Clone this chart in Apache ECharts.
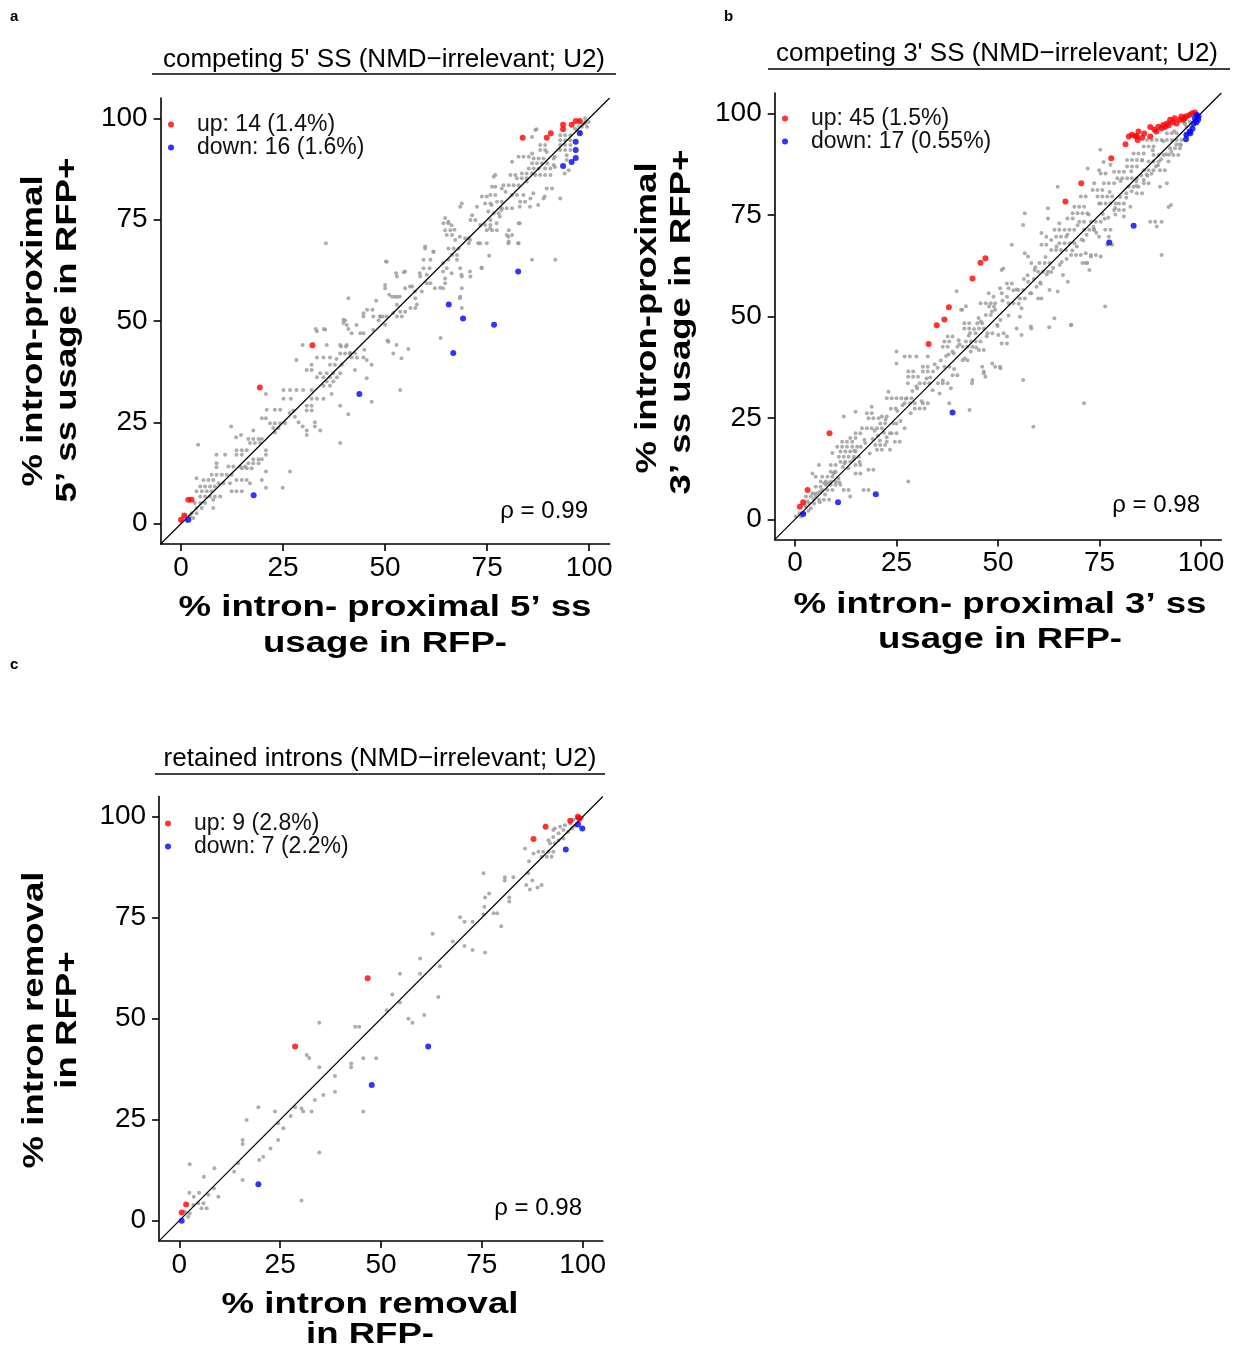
<!DOCTYPE html>
<html>
<head>
<meta charset="utf-8">
<script src="https://cdn.jsdelivr.net/npm/echarts@6.0.0/dist/echarts.min.js"></script>
<style>
  html, body { margin: 0; background: #fff; }
  #main { width: 1241px; height: 1348px; }
</style>
</head>
<body>
<div id="main"></div>
<script>
var axisRange = [-5, 105]
var tickValues = [0, 25, 50, 75, 100]

// a: competing 5' SS
var upA = [[0, 1], [0.8, 2], [1.8, 5.9], [2.6, 5.9], [19.3, 33.6], [32.2, 44], [83.7, 95.2], [89.6, 95.2], [90.6, 96.3],
  [93.6, 98.4], [93.6, 97.3], [95.7, 98.4], [96.7, 99.3], [97.7, 99.3]]
var downA = [[1.8, 1], [17.8, 7], [43.7, 32], [65.6, 54.1], [69.1, 50.6], [66.7, 42.1], [76.7, 49.1], [82.6, 62.2],
  [93.6, 88.2], [95.7, 89.2], [96.7, 90.2], [96.7, 92.2], [96.7, 94.2], [97.7, 96.3]]
var restA = [[40.2, 50.1], [44.7, 51.9], [47.1, 51.1], [48.8, 51.1], [48.4, 50.1], [52, 52],
  [33.3, 47.5], [35.3, 47.9], [40.6, 49], [41, 48], [41.8, 47], [43.9, 47], [44.7, 47], [47.1, 47.8], [50.8, 44.9], [52, 42],
  [29.8, 44.1], [35.7, 44.1], [39, 44.1], [40.6, 44.1], [44.9, 42.9], [39, 42], [40.2, 42], [41.4, 42], [33.3, 41], [34.9, 41],
  [36.5, 41], [41.8, 41], [43.1, 41], [44.7, 41], [28.3, 40.4], [46.7, 39.2],
  [32, 39.2], [30.8, 37.9], [32, 37.9], [34.1, 37.1], [35.7, 37.1], [37.3, 37.1], [39, 37.1], [36.5, 39.2], [37.7, 39.2],
  [39.4, 39.2], [33.3, 36.1], [34.9, 36.1], [36.5, 36.1], [38.2, 36.1], [42.6, 37.9], [45.5, 35.9], [35.7, 35.1], [37.3, 35.1],
  [34.9, 34], [36.5, 34], [32, 33], [28.3, 33], [29.9, 33], [25.1, 33], [26.7, 33], [36.9, 32], [25.1, 30.8], [26.9, 30.8],
  [32, 30.8], [33.3, 30.8], [34.9, 30.8], [30.8, 29.1], [32, 29.1], [30.8, 27.9], [32, 27.9], [27.5, 27.9], [39, 29.1],
  [41, 27], [46.7, 30.1], [53.7, 33], [20.8, 32], [21, 28.1], [23, 28.1], [24.3, 28.1],
  [19.8, 26], [20.8, 26], [21.8, 24.8], [23, 24.8], [24.3, 24.8], [25.5, 24.8], [22.6, 23.6], [23.9, 23.6], [23, 22.5],
  [26.6, 27.3], [27.9, 26.4], [28.8, 25], [29.8, 24], [30.8, 23], [32.8, 25], [32.8, 24], [34.1, 23], [30.8, 21.9],
  [12.3, 24], [13.5, 21.3], [14.7, 21.9], [17.7, 23], [16.5, 20.9], [17.7, 20.9], [19, 20.9], [19.8, 20.9], [39, 19.9],
  [4.2, 19.5], [8.7, 17], [10.8, 17], [13.6, 18.1], [14.9, 18.1], [16.1, 18.1], [16.9, 19.9], [18.1, 19.9], [19.4, 19.9],
  [13.6, 17], [14.9, 17], [17.7, 15.9], [19, 15.9], [19.8, 15.9], [16.5, 14.9], [17.7, 14.9], [19, 14.9], [20.8, 18.1],
  [20.8, 17], [8.7, 14.9], [8.7, 13.9], [11.6, 14.1], [12.8, 14.1], [14.5, 14.1], [15.7, 14.1], [20.8, 12.9], [26.7, 12.9],
  [7.5, 12.1], [8.7, 12.1], [10, 12.1], [11.2, 12.1], [12.4, 12.1],
  [3.8, 11.2], [5.5, 10.8], [6.7, 10.8], [7.9, 10.8], [9.2, 10], [10.4, 10], [12, 10], [14.9, 13.7], [16.1, 13.7],
  [17.3, 13.7], [13.6, 10.8], [14.9, 10.8], [16.1, 10.8], [16.9, 10], [4.7, 9.2], [5.9, 9.2], [7.1, 9.2], [8.3, 9.2],
  [19.8, 10.8], [20.8, 8.9], [24.9, 8.9], [3.8, 8], [5.1, 8], [6.3, 8], [7.5, 8], [12.4, 8], [13.6, 8], [14.9, 8],
  [4.7, 6.7], [5.9, 6.7], [7.1, 6.7], [8.3, 6.7], [9.6, 6.7], [7.9, 5.9],
  [3.4, 5.1], [4.7, 5.1], [5.9, 5.1], [3.8, 3.9], [5.1, 3.9], [2.6, 2.6], [3.8, 2.6], [1, 1.8], [2.2, 1.8], [0.2, 0.6],
  [1.4, 0.6], [7.9, 3.9], [3, 1.4],
  [50.4, 64.6], [52.9, 61], [50, 58.9], [50, 58.1], [54.9, 62.2], [56.6, 58.5], [54.9, 58.1], [51.7, 56], [52.9, 56],
  [52.9, 54], [53.7, 52.3], [54.9, 52.3], [52.9, 51.1], [54.1, 51.1], [48.8, 51.1], [50, 49.1], [57.4, 55.6], [56.2, 53.2],
  [57.4, 53.2], [57.8, 54.1], [59, 57.3], [59.8, 67.9], [61.9, 67.1], [59.4, 65.1], [61.1, 65.1], [59.4, 63], [60.9, 63],
  [58.6, 61], [60.2, 61.4], [61.1, 59.3], [63.5, 58.2], [64.7, 60.5], [64.7, 59.3], [65.1, 63], [65.5, 65.1], [66.4, 66.3],
  [67.6, 66.3], [67.6, 65.1], [68.4, 63], [68.8, 61], [68.8, 58.1], [68.4, 56], [70.9, 61], [68.8, 53.2], [65.5, 67.9],
  [66.8, 67.9], [68, 67.9], [64.3, 74.1], [65.5, 74.1], [64.7, 72.4], [66, 72.4], [65.1, 71.2], [66.4, 71.2], [67.2, 70],
  [69.6, 70.4], [70.5, 70.4], [70.5, 69.2], [73.3, 69.2], [74.9, 69.2], [73.7, 63], [80.3, 69.6], [79.8, 71.2], [81.1, 71.2],
  [80.3, 72.4], [82.7, 69.2], [82.7, 74.1], [86, 65.1], [91.7, 65.1], [68.8, 79], [68.4, 78.2], [71.3, 76.1], [72.5, 78.2],
  [70.9, 74.9], [72.1, 74.9], [73.3, 73.7], [74.5, 73.7], [75.8, 73.7], [74.9, 72.4], [76.2, 72.4], [77.4, 72.4],
  [75.8, 74.9], [76.6, 76.6], [77.8, 76.6], [74.5, 79], [75.8, 79], [73.7, 80.7], [74.9, 80.7], [75.8, 81.1], [77, 81.1],
  [77.4, 79.4], [78.6, 79.4], [78.6, 77.8], [79.8, 77.8], [81.1, 77.8], [76.2, 83.1], [77, 83.1], [76.6, 85.6], [77, 86],
  [78.6, 82.7], [79, 83.5], [80.3, 83.5], [81.5, 83.5], [82.7, 83.5], [79.5, 81.9], [81.1, 81.1], [82.3, 81.1], [83.1, 79.4],
  [84.3, 79.4], [83.9, 81.1], [85.6, 80.2], [82.3, 85.2], [83.5, 85.2], [84.7, 85.2], [80.7, 86], [81.9, 86], [81.1, 89.3],
  [83.5, 86.4], [84.7, 86.4], [86, 86.4], [86.8, 86], [88, 86], [89.2, 86], [90.5, 86], [85.2, 87.6], [86.4, 87.6],
  [87.6, 87.6], [86, 88.9], [87.2, 88.9], [88.4, 88.9], [89.7, 88.9], [82.7, 90.5], [83.9, 90.5], [85.2, 90.5], [86.4, 90.1],
  [87.6, 90.1], [88.8, 90.1], [86, 91.3], [89.2, 87.6], [90.5, 87.6], [89.6, 91.7], [88, 93.4], [89.2, 93.4], [88, 92.2],
  [89.2, 92.2], [86.8, 97.1], [86, 95.4], [91.3, 90.1], [91.3, 88.5], [92.9, 93.4], [94.1, 93.4], [95.4, 93.4], [92.9, 92.2],
  [94.1, 92.2], [95.4, 92.2], [92.9, 94.6], [94.1, 94.6], [95.4, 94.6], [92.9, 95.8], [94.1, 95.8], [95.4, 95.8],
  [94.5, 90.9], [94.5, 89.7], [95, 87.2], [92.9, 80.2], [88.8, 80.2], [84.7, 84.4], [89.6, 82.7], [90.9, 82.7], [97.8, 99.1],
  [99, 99.1], [99.9, 99.1], [98.2, 97.9], [99.5, 97.9], [99, 100], [97, 97.1], [97.8, 96.7],
  [35.5, 69.2], [63.6, 45.8], [50.2, 64.7], [52.7, 61.8], [54.6, 62], [51, 56.5], [52.4, 56], [53.6, 56], [47.8, 55],
  [41, 55.6], [45.6, 52.8], [46.9, 52.8], [39.8, 50.3], [39.8, 49.5], [43, 49], [44.7, 51.1], [49.4, 51.1], [50.4, 51.1],
  [35, 48], [33, 48], [39.2, 43.7], [40.4, 43.7], [41.4, 42.1], [42.6, 42.1], [45.5, 40.4], [50.6, 45.2], [52.8, 44.1],
  [55.7, 43.1], [54, 40.8], [38.1, 40.6],
  [64.7, 75.4], [65.5, 74.5], [66.3, 73.6], [67, 72.5], [68.3, 70.8], [70.8, 70], [72.8, 69.2], [75.5, 66.1], [73.6, 63.2],
  [70.8, 62.2], [68.7, 61.4], [66.3, 61.8], [64.2, 64.3], [64.2, 62.2], [61.8, 67.1], [59.8, 68.4], [58.5, 61.8],
  [60.2, 59.3], [57.3, 57.3], [56.1, 58.5], [62.2, 58.1], [64.2, 58.1], [68.3, 55.6], [82.6, 69.2], [80.2, 70.8],
  [80.2, 69.2], [77.3, 74.1], [75.7, 72.9], [78.1, 75.8], [78.5, 77.4], [76.1, 78.6], [75.3, 77], [83, 78.2], [85.5, 78.2],
  [83, 74.1], [87.5, 78.6], [89.1, 80.7], [86.3, 81.5], [87.1, 97.3], [91.6, 90.5], [91.6, 88], [94, 86.4], [96.5, 97.5],
  [98.5, 98.5], [97.5, 98], [99, 98.8]]

// b: competing 3' SS
var upB = [[1.2, 3.1], [2, 4.2], [3.1, 7.2], [8.5, 21.2], [32.9, 43.2], [34.9, 47.8], [36.8, 49.2], [37.9, 52.2],
  [43.7, 59.3], [45.7, 63.2], [46.9, 64.3], [66.6, 78.3], [70.5, 82.8], [77.9, 88.9], [81.4, 92.4], [82.2, 94.3],
  [83, 94.7], [84.2, 94.3], [84.6, 95.5], [87.5, 94.3], [87.5, 96.6], [90.3, 96.3], [91.1, 96.6], [89.5, 96.7],
  [90.7, 97.1], [91.6, 97.5], [92.4, 98.4], [94.8, 98.4], [95.6, 98.4], [95.2, 99.2], [96.4, 99.3], [97.2, 99.6],
  [98.5, 100.2], [93.5, 98.8], [94, 97.5], [96, 98.8], [97.8, 100], [88.5, 96], [86, 95], [89, 95.5], [92, 97],
  [85.5, 94], [93, 97.8], [83.8, 94.4], [84.4, 93.4]]
var downB = [[2, 1.3], [10.6, 4.2], [19.9, 6.2], [38.8, 26.3], [77.4, 68.2], [83.4, 72.3], [99, 99.6], [98.5, 98.8],
  [99.3, 98.5], [98.2, 97.5], [97.2, 95.5], [96.4, 94.7], [96.3, 93.6], [97.4, 95.1], [98.9, 97.8], [97.9, 96.2],
  [99.4, 99.2]]
var restB = [[40.9, 51.6], [42.1, 52.5], [45.7, 53.2], [47, 53.2], [48.2, 53.2], [47.8, 52.4], [49, 52.4], [47, 50.3],
  [48.2, 50.3], [41.7, 48.3], [42.9, 48.3], [41.7, 47], [42.9, 47], [44.9, 48.3], [46.1, 48.3], [45.3, 47], [46.5, 47],
  [44.5, 45.8], [47.4, 45.8], [48.6, 45.8], [49.8, 47.9], [50.6, 49.1], [51.4, 45.8], [52.2, 45], [37.6, 45], [38.8, 45],
  [36.8, 43.8], [38, 43.8], [36.4, 42.5], [37.6, 42.5], [38.8, 41.3], [40, 42.5], [41.3, 42.5], [42.1, 43.8], [43.3, 43.8],
  [44.5, 43.8], [45.7, 43.8], [42.5, 42.5], [43.7, 42.5], [43.3, 41.3], [41.3, 39.2], [42.5, 39.2], [45.3, 41.7],
  [46.5, 41.7], [48.6, 38.4], [50.6, 37.2], [46.1, 37.6], [46.5, 36.4], [43.7, 34.3], [25, 41.3], [25, 38.4], [27, 40.1],
  [28.3, 40.1], [29.9, 40.1], [32.7, 40.1], [27.9, 36.4], [29.1, 36.4], [27.9, 35.1], [29.1, 35.1], [30.3, 35.1],
  [31.5, 37.6], [32.7, 37.6], [31.5, 36.4], [32.7, 36.4], [34, 36.4], [30.7, 33.5], [31.9, 33.5], [33.1, 33.5], [27.8, 33.5],
  [35.2, 33.5], [36.4, 33.5], [37.6, 33.5], [38.4, 32.3], [35.6, 31], [38.8, 35.5], [40, 35.5], [36.8, 37.6], [38, 37.6],
  [23, 31.4], [22.6, 29.8], [23.8, 29.8], [25, 29.8], [26.2, 29.8], [27.5, 29.8], [28.7, 29.8], [27, 28.6], [28.3, 28.6],
  [29.5, 28.6], [29.5, 27.3], [30.7, 27.3], [31.9, 27.3], [31.5, 28.6], [32.7, 28.6], [18.9, 27.7], [17.7, 26.1],
  [18.9, 26.1], [18.1, 24.9], [19.3, 24.9], [20.6, 24.9], [21.4, 25.3], [22.6, 25.3], [12, 25.3], [14.9, 26.5],
  [16.5, 22.4], [17.7, 22.4], [18.9, 22.4], [20.2, 22.4], [21.4, 22.4], [21, 23.6], [22.2, 23.6], [24.2, 23.6], [25, 23.6],
  [27, 22.4], [23.8, 21.2], [25, 21.2], [19.8, 18.3], [21, 18.3], [22.2, 18.3], [20.2, 17.1], [21.4, 17.1], [23.4, 17.1],
  [24.6, 19.1], [25.8, 19.1], [22.6, 20.2], [22.6, 19.1], [14.9, 21.2], [16.1, 21.2], [13.6, 20], [14.9, 20], [11.6, 19.1],
  [12.8, 19.1], [14.1, 19.1], [10.4, 17.9], [11.6, 17.9], [12.8, 17.9], [14.1, 17.9], [15.3, 17.9], [11.2, 16.7],
  [12.4, 16.7], [13.6, 16.7], [14.9, 16.7], [10.8, 15.4], [12, 15.4], [13.2, 15.4], [14.5, 15.4], [15.7, 15.4], [9.2, 16.3],
  [14.9, 13.4], [16.1, 13.4], [11.2, 14.2], [12.4, 14.2], [13.6, 14.2], [8.8, 13.4], [10, 13.4], [5.9, 13.4], [18.1, 12.2],
  [19.3, 12.2], [14.9, 11.3], [16.1, 11.3], [27.9, 9.3], [16.9, 7.2], [18.1, 7.2], [4.3, 11.3], [5.1, 10.5], [6.7, 10.5],
  [8, 10.5], [9.2, 10.5], [6.3, 9.3], [7.6, 9.3], [8.8, 9.3], [10, 9.3], [7.6, 8.5], [8.8, 8.5], [10, 8.5], [11.2, 8.5],
  [5.1, 8], [6.3, 8], [6.7, 7.2], [8, 7.2], [9.2, 7.2], [12, 7.2], [13.2, 7.2], [4.3, 6.4], [5.5, 6.4], [2.7, 5.6],
  [3.9, 5.6], [5.1, 5.6], [5.9, 4.8], [7.1, 4.8], [8.4, 4.8], [3.5, 3.9], [4.7, 3.9], [1.1, 1.5], [2.3, 1.5], [0.2, 0.7],
  [1.5, 0.7], [13.6, 5.6], [2.7, 3.1], [3.9, 2.7], [8.8, 11.7], [10, 11.7],
  [47.7, 55.7], [48.9, 54.8], [49.3, 53.2], [49.3, 51.6], [50.9, 55.7], [52.2, 54.8], [52.6, 53.2], [53.8, 53.2],
  [52.2, 58.1], [53.4, 58.1], [55, 56.5], [56.2, 56.5], [55.4, 54.4], [56.6, 54.4], [58.2, 55.7], [59.9, 54.4],
  [60.7, 54.4], [55.8, 52], [55.4, 49.9], [58.1, 47.5], [63.9, 49.5], [68, 47.8], [53.4, 67.6], [50.9, 61.4], [56.6, 65.5],
  [57.4, 64.7], [58.2, 63.1], [59, 61.4], [60.2, 63.1], [61.5, 63.1], [62.7, 63.1], [59.9, 61], [61.1, 61], [62.3, 61],
  [60.7, 70.5], [61.9, 69.6], [63.1, 68.8], [60.7, 67.6], [61.9, 67.6], [63.9, 71.3], [65.1, 71.3], [66.4, 71.3],
  [67.6, 71.3], [68.8, 71.3], [64.3, 69.6], [65.5, 69.6], [66.8, 69.6], [65.1, 68], [66.4, 68], [67.6, 68], [68.8, 68],
  [63.1, 66.3], [64.3, 66.3], [65.5, 66.3], [66.8, 66.3], [68, 65.1], [69.2, 65.1], [70.4, 65.1], [70.8, 63.1], [72, 63.1],
  [72.5, 61.4], [71.6, 65.5], [72.9, 65.1], [74.1, 65.1], [62.3, 74.1], [65.1, 72.9], [68.8, 77], [70, 77], [71.2, 77],
  [68.4, 75.4], [69.6, 75.4], [70.8, 75.4], [72, 75.4], [67.1, 74.1], [68.4, 74.1], [70, 73.3], [71.2, 73.3], [72.9, 73.3],
  [74.1, 73.3], [75.3, 73.3], [71.2, 71.3], [72.5, 71.3], [73.7, 71.3], [76.4, 71.3], [77.7, 71.3], [74.9, 69.6],
  [77.3, 69.6], [76.9, 67.6], [78.1, 67.6], [70.4, 79.5], [71.6, 79.5], [73.3, 81.1], [74.5, 81.1], [75.7, 81.1],
  [73.7, 82.8], [76.1, 82.8], [77.3, 82.8], [78.6, 82.8], [74.5, 79.5], [75.7, 79.5], [76.9, 79.5], [78.1, 79.5],
  [75.3, 77.8], [76.5, 77.8], [77.7, 77.8], [79, 77.8], [79.8, 77.8], [81, 77.8], [78.6, 76.2], [79.8, 76.2], [81, 76.2],
  [82.6, 77], [75.3, 85.2], [76.5, 85.2], [78.6, 85.6], [79.8, 85.6], [81, 85.6], [77.7, 87.3], [81.8, 86.9], [83, 86.9],
  [84.2, 86.9], [79.4, 84], [80.6, 84], [81.8, 84], [83, 84], [84.2, 84], [82.2, 81.9], [83.4, 81.9], [84.6, 81.9],
  [84.2, 80.3], [85.5, 80.3], [85.9, 82.8], [87.1, 82.8], [81.8, 88.5], [83, 88.5], [84.2, 88.5], [85.5, 88.5], [83.4, 90.1],
  [84.6, 90.1], [85.9, 90.1], [85.9, 91.8], [87.1, 91.8], [88.3, 91.8], [86.7, 93.4], [87.9, 93.4], [89.1, 93.4],
  [90.3, 93.4], [88.3, 89.7], [89.6, 89.7], [90.8, 89.7], [87.1, 88.1], [88.3, 88.1], [89.6, 88.1], [85.9, 86], [87.1, 86],
  [88.3, 86], [89.9, 86], [91.1, 86], [92.4, 91.4], [93.6, 91.4], [94.8, 91.4], [91.6, 93.4], [92.8, 93.4], [94, 93.4],
  [95.2, 93.4], [91.6, 95.1], [92.8, 95.1], [94, 95.1], [93.2, 89.7], [94.4, 89.7], [92, 88.1], [85.9, 83.6], [89.9, 81.9],
  [91.6, 82.8], [92, 76.9], [90.3, 65.1], [81, 74.6], [87.5, 73.3], [89.1, 72.1], [96.4, 96.7], [97.6, 96.7], [96, 97.5],
  [97.2, 97.9], [75.2, 91], [76, 88], [72.1, 86.4], [74.9, 86], [64.7, 81.9], [62.3, 76.6], [56.6, 75.4], [56.2, 72.5],
  [51.3, 61.8],
  [71.2, 28.6], [58.7, 22.8], [76.4, 52.4], [68, 47.9], [62.6, 47.3], [56.2, 34.3], [43, 26.9], [38, 28.6], [92.6, 77.4],
  [90.3, 73.3], [88.7, 73.3], [39.8, 56.2], [41.2, 51.6], [50.9, 43.3], [52.2, 43.3], [50.1, 45.4], [54.6, 47], [55.8, 45.4],
  [58.2, 47], [49.3, 37.6], [50.5, 37.6], [46.5, 36], [46.9, 35.1], [43.6, 33.5], [50.5, 56.9], [52.6, 56.9], [54.6, 56.6],
  [57.4, 58.5], [59.5, 57.3], [62.7, 56.5], [64.7, 56.1], [66, 60.2], [67.2, 58.5], [75.3, 64.7], [72.9, 64.7], [71.6, 63.1],
  [57.3, 60.1], [58.8, 59.2], [60.5, 58], [62, 60.3], [63.6, 61.9], [65.2, 62.7], [66.9, 64.1], [69.4, 67.2], [70.6, 68.9],
  [71.8, 70.1], [73.5, 72], [74.2, 70.6], [75.8, 75.2], [77.2, 74.3], [78.9, 75.1], [80.1, 79.4], [81.6, 80.3], [82.9, 80.8],
  [84.1, 83.2], [85.3, 84.7], [86.6, 84.9], [87.8, 85.1], [88.9, 86.9], [90.2, 88.7], [91.4, 89.9], [92.7, 90.5],
  [93.9, 92.3], [95.1, 92.2], [96.3, 94.8], [45.2, 49.6], [44.1, 46.9], [42.8, 45.2], [40.3, 44.1], [39.1, 40.9],
  [37.2, 40.2], [35.9, 39.1], [34.4, 38.2], [33.3, 34.9], [30.1, 32.2], [28.9, 31.6], [26.5, 28.1], [25.2, 26.7],
  [23.6, 27.2], [21.9, 21.3], [20.4, 20.6], [19.1, 19.8], [17.3, 18.8], [16.2, 17.9], [14.4, 14.8], [13.1, 12.6],
  [11.8, 12.9], [10.7, 10.1], [9.5, 11.2], [8.3, 8.9], [7.4, 6.1], [6.2, 6.8], [4.6, 4.9], [3.1, 4.4],
  [2.4, 3.6], [3.3, 2.1], [4.8, 6.3], [6.1, 4.2], [7.2, 8.9], [9.7, 11.6], [10.9, 9.1], [12.2, 13.8], [14.6, 16.9],
  [15.9, 14.1], [17.1, 19.6], [18.4, 16.2], [19.6, 21.8], [20.9, 19.4], [22.3, 24.6], [23.4, 21.2], [24.8, 27.3], [26, 24.2],
  [27.3, 29.7], [28.5, 26.1], [29.9, 32.8], [31.2, 29.1], [32.4, 34.7], [33.9, 31.8], [35.1, 37.3], [36.4, 34.2],
  [37.8, 40.6], [39.2, 37], [40.5, 43.1], [41.8, 39.6], [43.1, 45.9], [44.6, 42.3], [45.8, 48.7], [47.2, 45.1], [48.5, 51.2],
  [49.9, 47.6], [51.1, 53.8], [52.6, 50.2], [53.8, 56.4], [55.1, 53.1], [56.4, 59.2], [57.9, 55.7], [59.2, 62.1],
  [60.4, 58.3], [61.7, 64.6], [63.1, 60.9], [64.4, 67.2], [65.7, 63.4], [67.1, 70.1], [68.3, 66.2], [69.6, 72.4], [71, 68.7],
  [72.3, 75.1], [73.6, 71.4], [74.9, 77.8], [76.3, 74], [77.5, 80.6], [78.9, 76.7], [80.2, 83.3], [81.6, 79.2], [82.8, 85.7],
  [84.1, 82.1], [85.5, 88.4], [86.8, 84.6], [88.1, 90.9], [89.4, 87.2], [90.7, 93.1], [92.1, 89.8], [93.4, 95.6],
  [94.7, 92.4], [96, 97.4], [97.2, 95.2]]

// c: retained introns
var upC = [[0.6, 2], [1.7, 4], [28.7, 43.1], [46.7, 60], [87.8, 94.5], [90.8, 97.5], [96.9, 99], [98.8, 100], [99.2, 99.6]]
var downC = [[0.6, 0], [19.6, 9], [47.7, 33.6], [61.7, 43.1], [95.8, 91.9], [98.8, 98.1], [99.9, 97.1]]
var restC = [[2.6, 14], [6.1, 10.9], [8.7, 13], [9.7, 5.9], [2.5, 6.9], [3.6, 5.9], [4.9, 6.9], [3.5, 3.9], [4.7, 4.3],
  [6, 4.3], [5.5, 3.1], [6.8, 3.1], [7.2, 6.4], [8.6, 8], [2.2, 1], [2.6, 1.8], [1.4, 2.2], [30.3, 5], [15.7, 10.1],
  [13.6, 12.1], [14.6, 14.2], [16.7, 24.9], [15.7, 20], [15.7, 19], [19.6, 28.1], [20.8, 15.8], [19.8, 15], [22.6, 17.9],
  [24.5, 20], [23.7, 27], [24.5, 24.1], [25.8, 22.9], [27.6, 25.9], [28.7, 28.1], [30.3, 27.8], [30.7, 27], [32.8, 27],
  [31.6, 41], [32.2, 40.3], [34.7, 49], [34.7, 38], [34.7, 16.9], [35.7, 31.1], [33.6, 29.9], [38.6, 35.8], [38.6, 31.9],
  [42.6, 38.9], [42.6, 38], [43.6, 48], [44.6, 48], [45.6, 40.2], [48.8, 40.2], [45.6, 27], [51.4, 52.1], [52.8, 56],
  [54.7, 61.1], [54.7, 54], [56.8, 50], [57.8, 49], [59.7, 64.9], [59.7, 61.1], [60.7, 50.9], [62.8, 71], [64.2, 55.4],
  [64.6, 63], [67.8, 69.1], [70.7, 68], [72.7, 67], [69.6, 75.1], [70.7, 74], [72.7, 74], [75.8, 66.4], [75.4, 75.8],
  [75.6, 77.7], [75.8, 80], [76.8, 81], [77.9, 76.1], [78.8, 76.1], [79.8, 72.9], [81.8, 79], [81.8, 80], [80.7, 85],
  [80.7, 84.2], [82.8, 85], [75.4, 86], [85.7, 92.1], [86, 83.1], [86.9, 82], [88.8, 82.5], [89.8, 83.1], [86.5, 86],
  [87.5, 84.2], [86.7, 89], [87.8, 90.9], [89.8, 90.1], [91.1, 90.1], [92.3, 90.1], [89, 91.3], [90.2, 91.3], [91.5, 91.3],
  [92.7, 91.3], [91.9, 93.4], [93.1, 93.4], [91.5, 94.2], [92.7, 95], [94, 95.9], [95.2, 96.7], [93.1, 97.1], [94.4, 97.5],
  [95.6, 97.9], [96.9, 98.3], [94, 94.2], [95.2, 94.6], [97.3, 97.1], [98.1, 97.7], [99.3, 98.8], [99.8, 99.6], [92.7, 96.7],
  [96.4, 96.3], [97.7, 99.2], [98.5, 99.6]]

var labelsA = ['up: 14 (1.4%)', 'down: 16 (1.6%)']
var labelsB = ['up: 45 (1.5%)', 'down: 17 (0.55%)']
var labelsC = ['up: 9 (2.8%)', 'down: 7 (2.2%)']

var FONT = '"Liberation Sans", Arial, Helvetica, sans-serif'

var panels = [
  { grid: { left: 160.6, top: 98, width: 449, height: 446 }, up: upA, down: downA, rest: restA, names: labelsA, legend: [168, 113] },
  { grid: { left: 774.7, top: 93, width: 446.6, height: 446.6 }, up: upB, down: downB, rest: restB, names: labelsB, legend: [782, 107] },
  { grid: { left: 159.1, top: 796.5, width: 443.8, height: 444.4 }, up: upC, down: downC, rest: restC, names: labelsC, legend: [165, 812] }
]

function axis (i, margin) {
  return {
    gridIndex: i,
    type: 'value',
    min: axisRange[0],
    max: axisRange[1],
    splitLine: { show: false },
    axisLine: { onZero: false, lineStyle: { color: '#000', width: 1.6 } },
    axisTick: { length: 7, customValues: tickValues, lineStyle: { color: '#000', width: 1.6 } },
    axisLabel: { customValues: tickValues, margin: margin, color: '#000', fontFamily: FONT, fontSize: 28 }
  }
}

var grids = []
var xAxes = []
var yAxes = []
var legends = []
var series = []

panels.forEach(function (p, i) {
  grids.push(Object.assign({ outerBoundsMode: 'none' }, p.grid))
  xAxes.push(axis(i, 10))
  yAxes.push(axis(i, 13))
  legends.push({
    left: p.legend[0],
    top: p.legend[1],
    orient: 'vertical',
    padding: 0,
    itemGap: 0,
    icon: 'circle',
    itemWidth: 6,
    itemHeight: 6,
    selectedMode: false,
    data: p.names,
    textStyle: { fontFamily: FONT, fontSize: 23, lineHeight: 22, color: '#111', padding: [0, 0, 0, 18] }
  })
  series.push({
    type: 'scatter', xAxisIndex: i, yAxisIndex: i, data: p.rest, symbolSize: 4, z: 1, silent: true,
    itemStyle: { color: '#999999' }
  })
  series.push({
    type: 'line', xAxisIndex: i, yAxisIndex: i, symbol: 'none', z: 2, silent: true,
    data: [[axisRange[0], axisRange[0]], [axisRange[1], axisRange[1]]],
    lineStyle: { color: '#000', width: 1.2 }
  })
  series.push({
    name: p.names[0], type: 'scatter', xAxisIndex: i, yAxisIndex: i, data: p.up, symbolSize: 6, z: 3,
    itemStyle: { color: '#ff0000' }
  })
  series.push({
    name: p.names[1], type: 'scatter', xAxisIndex: i, yAxisIndex: i, data: p.down, symbolSize: 6, z: 3,
    itemStyle: { color: '#0000ff' }
  })
})

function text (str, x, y, font, align, extra) {
  return Object.assign({
    type: 'text',
    x: x,
    y: y,
    silent: true,
    style: { text: str, font: font, fill: '#000', textAlign: align || 'center', textVerticalAlign: 'middle' }
  }, extra || {})
}

function rule (x1, x2, y) {
  return { type: 'line', silent: true, shape: { x1: x1, y1: y, x2: x2, y2: y }, style: { stroke: '#000', lineWidth: 1.6 } }
}

var big = 'bold 30px ' + FONT
var wide = { scaleX: 1.22 }
var up90 = { scaleX: 1.22, rotation: Math.PI / 2 }
var panelFont = 'bold 15px ' + FONT
var titleFont = '26px ' + FONT
var rhoFont = '24px ' + FONT

var graphics = [
  text('a', 10, 17, panelFont, 'left'),
  text('b', 724, 17, panelFont, 'left'),
  text('c', 10, 665, panelFont, 'left'),

  text('competing 5\' SS (NMD\u2212irrelevant; U2)', 384, 60, titleFont),
  rule(152, 616, 74),
  text('competing 3\' SS (NMD\u2212irrelevant; U2)', 997, 54, titleFont),
  rule(768, 1230, 69),
  text('retained introns (NMD\u2212irrelevant; U2)', 380, 759, titleFont),
  rule(155, 605, 774),

  text('% intron- proximal 5\u2019 ss', 385, 608, big, 'center', wide),
  text('usage in RFP-', 385, 644, big, 'center', wide),
  text('% intron- proximal 3\u2019 ss', 1000, 605, big, 'center', wide),
  text('usage in RFP-', 1000, 640, big, 'center', wide),
  text('% intron removal', 370, 1305, big, 'center', wide),
  text('in RFP-', 370, 1335, big, 'center', wide),

  text('% intron-proximal', 34, 331, big, 'center', up90),
  text('5\u2019 ss usage in RFP+', 68, 330, big, 'center', up90),
  text('% intron-proximal', 648, 318, big, 'center', up90),
  text('3\u2019 ss usage in RFP+', 682, 322, big, 'center', up90),
  text('% intron removal', 35, 1020, big, 'center', up90),
  text('in RFP+', 68, 1020, big, 'center', up90),

  text('\u03c1 = 0.99', 588, 511, rhoFont, 'right'),
  text('\u03c1 = 0.98', 1200, 505, rhoFont, 'right'),
  text('\u03c1 = 0.98', 582, 1208, rhoFont, 'right')
]

var chart = echarts.init(document.getElementById('main'))
var option = {
  animation: false,
  backgroundColor: '#fff',
  grid: grids,
  xAxis: xAxes,
  yAxis: yAxes,
  legend: legends,
  series: series,
  graphic: { elements: graphics }
}
chart.setOption(option)
</script>
</body>
</html>
